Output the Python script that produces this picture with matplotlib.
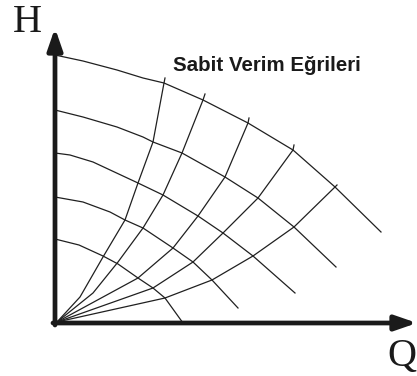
import matplotlib.pyplot as plt
import numpy as np

# H-Q curves at different speeds (arbitrary units)
head_q = [
    [0, 28, 62, 88, 109, 148, 193, 238, 280, 326],
    [0, 28, 62, 88, 98, 127, 170, 203, 239, 281],
    [0, 15, 38, 83, 108, 143, 168, 198, 240],
    [0, 28, 55, 70, 88, 118, 138, 157, 183],
    [0, 24, 48, 63, 83, 98, 110, 128],
]
head_h = [
    [268, 262, 253, 245, 240, 223, 200, 173, 136, 91],
    [213, 206, 196, 186, 181, 170, 146, 125, 96, 56],
    [170, 168, 161, 140, 128, 107, 90, 67, 30],
    [126, 121, 111, 103, 95, 75, 61, 43, 15],
    [84, 78, 67, 59, 45, 35, 25, 0],
]

# constant efficiency curves (from the origin)
eff_q = [
    [2, 25, 48, 70, 83, 98, 109, 110],
    [2, 38, 63, 88, 108, 127, 148, 150],
    [2, 83, 118, 143, 170, 193, 194],
    [2, 98, 138, 168, 203, 238, 239],
    [2, 110, 157, 198, 239, 280, 282],
]
eff_h = [
    [1, 26, 66, 103, 140, 181, 240, 245],
    [1, 30, 61, 95, 128, 170, 223, 229],
    [1, 45, 75, 107, 146, 200, 205],
    [1, 35, 61, 90, 125, 173, 178],
    [1, 25, 43, 67, 96, 136, 138],
]

q_max = 362
h_max = 295

fig = plt.figure(figsize=(4.17, 3.76), dpi=100)
ax = fig.add_axes([0, 0, 1, 1])
ax.set_xlim(-55, 362)
ax.set_ylim(-53, 323)
ax.axis('off')

for q, h in zip(head_q, head_h):
    ax.plot(q, h, color='#202020', lw=0.9, solid_joinstyle='round')
for q, h in zip(eff_q, eff_h):
    ax.plot(q, h, color='#202020', lw=0.9, solid_joinstyle='round')

# axes with arrows
arrow = dict(arrowstyle='-|>,head_length=1.3,head_width=0.45', lw=3.4,
             color='#1a1a1a', mutation_scale=10, shrinkA=0, shrinkB=0)
ax.annotate('', xy=(0, h_max), xytext=(0, -2), arrowprops=arrow)
ax.annotate('', xy=(q_max, 0), xytext=(-2, 0), arrowprops=arrow)

ax.text(-28, 301, 'H', fontsize=29, family='Liberation Serif',
        ha='center', va='center', color='#1a1a1a')
ax.text(347, -34, 'Q', fontsize=29, family='Liberation Serif',
        ha='center', va='center', color='#1a1a1a')
ax.text(118, 252, 'Sabit Verim Eğrileri', fontsize=14.8, fontweight='bold',
        family='Liberation Sans', ha='left', va='baseline', color='#1a1a1a')

fig.savefig('out.png', dpi=100)
